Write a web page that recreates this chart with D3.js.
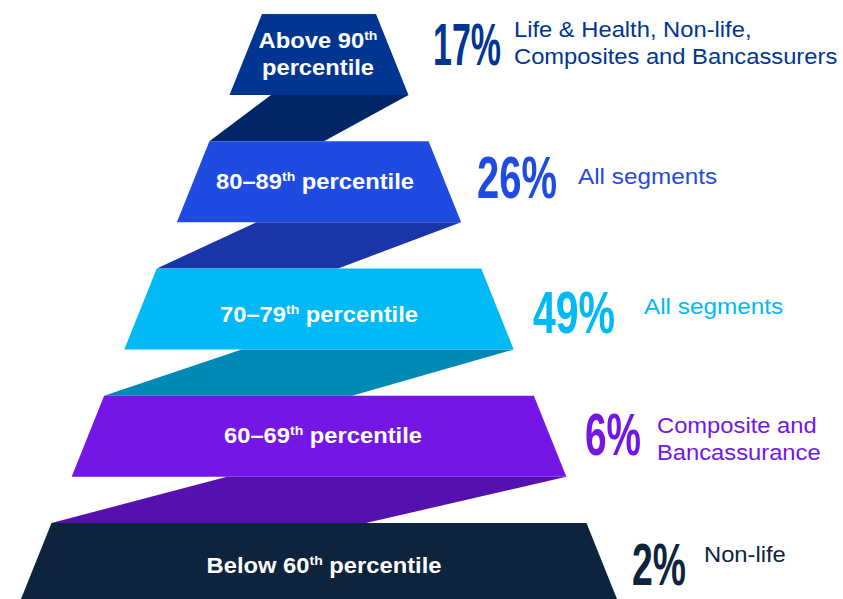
<!DOCTYPE html>
<html>
<head>
<meta charset="utf-8">
<script src="https://cdn.jsdelivr.net/npm/d3@7/dist/d3.min.js"></script>
<style>
  html, body { margin: 0; padding: 0; background: #ffffff; }
  svg { display: block; }
  text { font-family: "Liberation Sans", Arial, Helvetica, sans-serif; }
</style>
</head>
<body>
<svg id="chart" width="843" height="599"></svg>
<script>
// ---------------- DATA ----------------
const tierPre   = ["Above 90", "80–89", "70–79", "60–69", "Below 60"];
const tierSup   = ["th", "th", "th", "th", "th"];
const tierPost  = ["percentile", "percentile", "percentile", "percentile", "percentile"];
const tierWrap  = [true, false, false, false, false];   // first label split on two lines
const shares    = [17, 26, 49, 6, 2];                   // % share
const segments  = [
  ["Life & Health, Non-life,", "Composites and Bancassurers"],
  ["All segments"],
  ["All segments"],
  ["Composite and", "Bancassurance"],
  ["Non-life"]
];

// ---------------- STYLE / LAYOUT ----------------
const tierColors   = ["#003591", "#1f4be0", "#00b9f5", "#7316e6", "#0e233c"];
const ribbonColors = ["#002668", "#1935a8", "#0089b5", "#5610b0", "#0e233c"];

const W = 843, H = 599;
const cx = 319;                 // pyramid axis
const tierH = 81;               // trapezoid height
const slant = 32.5;             // horizontal inset of trapezoid sides

const svg = d3.select("#chart");

const idx = d3.range(tierPre.length);
// vertical position of each tier (top edge)
const yTop = d3.scalePoint().domain(idx).range([14, 523]);
// top width of each tier
const wTop = d3.scaleLinear().domain([0, 4]).range([114, 535]);
// ribbon attachment offsets relative to axis
const ribTopLeft  = d3.scaleLinear().domain([0, 3]).range([-48, -92]);
const ribBotRight = d3.scaleLinear().domain([0, 3]).range([5, 47]);

const tierPts = i => {
  const t = yTop(i), b = t + tierH, hw = wTop(i) / 2;
  return [[cx - hw, t], [cx + hw, t], [cx + hw + slant, b], [cx - hw - slant, b]];
};

// ribbons between tiers (drawn behind)
svg.append("g").selectAll("path")
  .data(idx.slice(0, -1))
  .join("path")
  .attr("d", i => {
    const p = tierPts(i), q = tierPts(i + 1);
    const yb = p[2][1], yt = q[0][1];
    return d3.line()([
      [cx + ribTopLeft(i), yb],
      p[2],
      [cx + ribBotRight(i), yt],
      q[0]
    ]) + "Z";
  })
  .attr("fill", i => ribbonColors[i]);

// tiers
svg.append("g").selectAll("path")
  .data(idx)
  .join("path")
  .attr("d", i => d3.line()(tierPts(i)) + "Z")
  .attr("fill", i => tierColors[i]);

// tier labels
const stretch = 1.08;
const labelDx = [-1, -4, 0, 4, 5];
const labelBase = [34, 48, 53, 47, 50];
const tierLabels = svg.append("g");
idx.forEach(i => {
  const g = tierLabels.append("g")
    .attr("transform", `translate(${cx + labelDx[i]},${yTop(i) + labelBase[i]}) scale(${stretch},1)`);
  const t = g.append("text")
    .attr("text-anchor", "middle")
    .attr("fill", "#ffffff")
    .attr("font-weight", "bold")
    .attr("font-size", 22);
  t.append("tspan").text(tierPre[i]);
  t.append("tspan").attr("font-size", 13).attr("dy", -8).text(tierSup[i]);
  if (tierWrap[i]) {
    t.append("tspan").attr("x", 0).attr("dy", 35).text(tierPost[i]);
  } else {
    t.append("tspan").attr("dy", 8).text(" " + tierPost[i]);
  }
});

// annotations
const pctX  = [433, 477, 533, 585, 632];
const pctY  = [65, 198, 333, 455, 585];
const pctW  = [68, 80, 82, 56, 54];
const labX  = [514, 578, 644, 657, 704];
const labY  = [37, 184, 314, 433, 562];
const labSize = [22, 22.5, 22.5, 22, 22];
const lineGap = 27;

const ann = svg.append("g");
idx.forEach(i => {
  const pg = ann.append("g");
  const pt = pg.append("text")
    .attr("fill", tierColors[i])
    .attr("font-weight", "bold")
    .attr("font-size", 60)
    .text(shares[i] + "%");
  const natural = pt.node().getComputedTextLength();
  pg.attr("transform", `translate(${pctX[i]},${pctY[i]}) scale(${pctW[i] / natural},1)`);

  const g = ann.append("g")
    .attr("transform", `translate(${labX[i]},${labY[i]}) scale(${stretch},1)`);
  const t = g.append("text")
    .attr("fill", tierColors[i])
    .attr("font-size", labSize[i]);
  segments[i].forEach((s, k) => {
    t.append("tspan").attr("x", 0).attr("y", k * lineGap).text(s);
  });
});
</script>
</body>
</html>
